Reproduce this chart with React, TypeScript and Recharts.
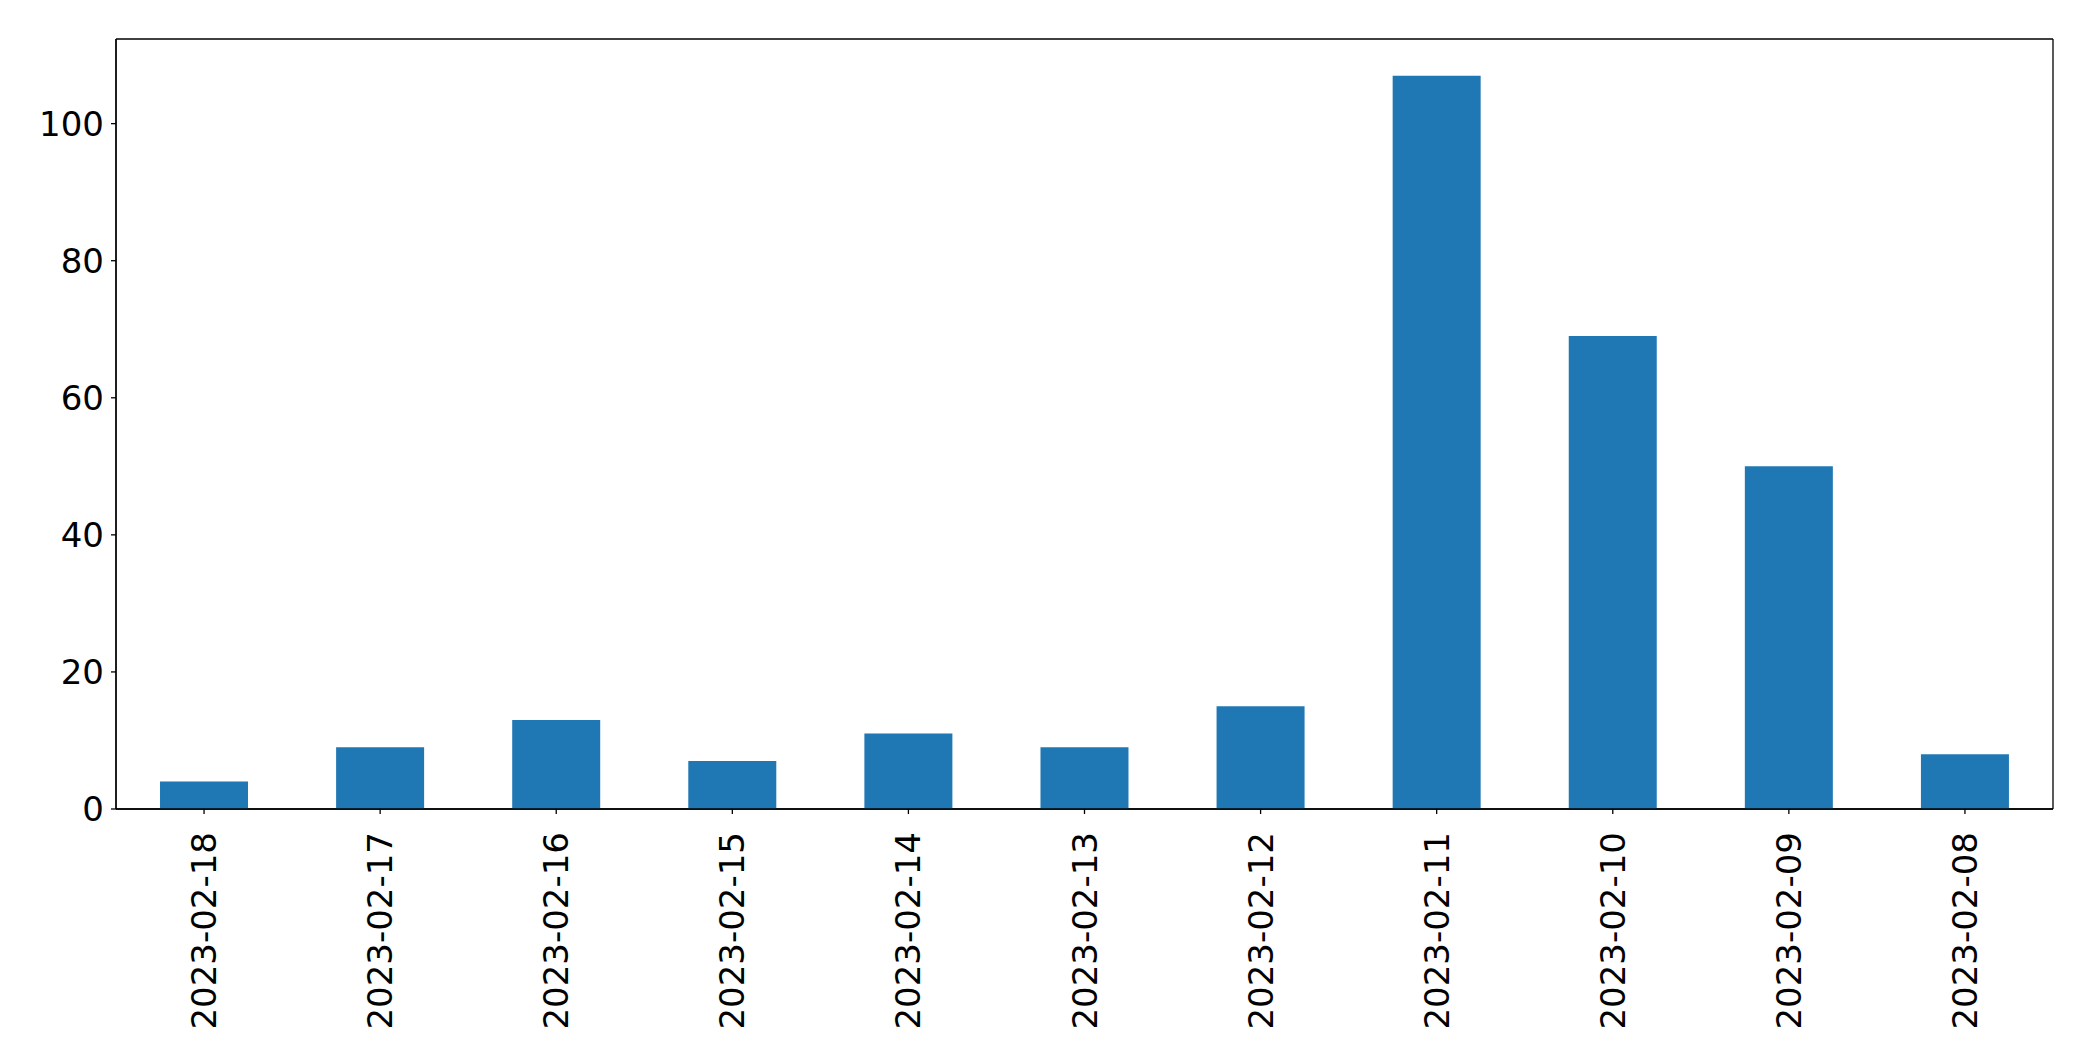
import { BarChart, Bar, XAxis, YAxis, CartesianGrid } from 'recharts';

const dates = [
  '2023-02-18', '2023-02-17', '2023-02-16', '2023-02-15', '2023-02-14', '2023-02-13',
  '2023-02-12', '2023-02-11', '2023-02-10', '2023-02-09', '2023-02-08',
];
const counts = [4, 9, 13, 7, 11, 9, 15, 107, 69, 50, 8];
const yTicks = [0, 20, 40, 60, 80, 100];

const data = dates.map((date, i) => ({ date, count: counts[i] }));

const FONT = 'DejaVu Sans';
const FONT_SIZE = 34;

function DateTick({ x, y, payload }: any) {
  return (
    <g transform={`translate(${x},${y + 16})`}>
      <text
        transform="rotate(-90)"
        textAnchor="end"
        dominantBaseline="central"
        fontFamily={FONT}
        fontSize={FONT_SIZE}
        fill="#000"
      >
        {payload.value}
      </text>
    </g>
  );
}

// frame around the plot area (matplotlib spines)
const frameX = ({ offset }: any) => [offset.left, offset.left + offset.width];
const frameY = ({ offset }: any) => [offset.top, offset.top + offset.height];

export default function App() {
  return (
    <div style={{ position: 'absolute', left: 0, top: 0, background: '#fff' }}>
      <BarChart
        width={2093}
        height={1061}
        data={data}
        margin={{ top: 39, right: 40, left: 0, bottom: 0 }}
        barCategoryGap="25%"
      >
        <CartesianGrid
          stroke="#000"
          strokeWidth={1.3}
          verticalCoordinatesGenerator={frameX}
          horizontalCoordinatesGenerator={frameY}
        />
        <XAxis
          dataKey="date"
          height={252}
          interval={0}
          tick={<DateTick />}
          tickSize={5}
          axisLine={{ stroke: '#000', strokeWidth: 1.3 }}
          tickLine={{ stroke: '#000', strokeWidth: 1.3 }}
        />
        <YAxis
          width={116}
          domain={[0, 112.35]}
          ticks={yTicks}
          allowDataOverflow
          tickSize={5}
          tickMargin={7}
          tick={{ fontFamily: FONT, fontSize: FONT_SIZE, fill: '#000' }}
          axisLine={{ stroke: '#000', strokeWidth: 1.3 }}
          tickLine={{ stroke: '#000', strokeWidth: 1.3 }}
        />
        <Bar dataKey="count" fill="#1f77b4" isAnimationActive={false} />
      </BarChart>
    </div>
  );
}
